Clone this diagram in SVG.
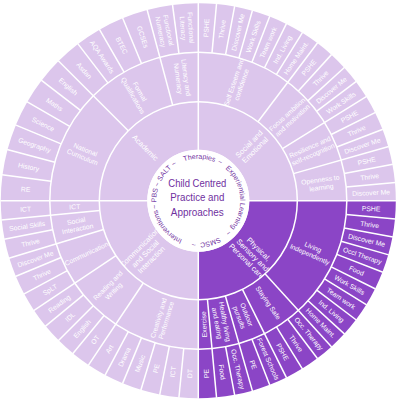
<svg xmlns="http://www.w3.org/2000/svg" width="397" height="400" viewBox="0 0 397 400">
<style>
.seg{fill:none}
.L{stroke:#DCC6EC}
.D{stroke:#8B45C6}
.s1{stroke-width:48}
.s2{stroke-width:49.5}
.s3{stroke-width:49}
.t{fill:#fff;font-family:"Liberation Sans",Arial,sans-serif;font-size:6.8px;text-anchor:middle}
.t1{font-size:7.5px}
.sep line,.sep circle{stroke:#fff;stroke-width:1.5;fill:none}
.rt{fill:#7030A0;font-family:"Liberation Sans",Arial,sans-serif;font-size:7px;text-anchor:middle}
.ct{fill:#7030A0;font-family:"Liberation Sans",Arial,sans-serif;font-size:11.5px;text-anchor:middle}
</style>
<defs>
<path id="ring" d="M-10.870,40.569 A42,42 0 1 1 10.870,-40.569 A42,42 0 1 1 -10.870,40.569"/>
</defs>
<g transform="translate(198.3,200.7)">
<!-- Ring 1 -->
<g id="n-academic"><circle class="seg L s1" r="75" pathLength="360" stroke-dasharray="90 360" transform="rotate(180)"/><text class="t t1" transform="rotate(315) translate(0,-75) rotate(90)" dy="2.6">Academic</text></g>
<g id="n-social-emotional"><circle class="seg L s1" r="75" pathLength="360" stroke-dasharray="90 360" transform="rotate(-90)"/><text class="t t1" transform="rotate(45) translate(0,-76) rotate(-90)"><tspan x="0" dy="-1.65">Social and</tspan><tspan x="0" dy="8.5">Emotional</tspan></text></g>
<g id="n-physical"><circle class="seg D s1" r="75" pathLength="360" stroke-dasharray="90 360" transform="rotate(0)"/><text class="t t1" transform="rotate(135) translate(0,-77) rotate(-90)"><tspan x="0" dy="-5.9">Physical,</tspan><tspan x="0" dy="8.5">Sensory and</tspan><tspan x="0" dy="8.5">Personal care</tspan></text></g>
<g id="n-communication-social"><circle class="seg L s1" r="75" pathLength="360" stroke-dasharray="90 360" transform="rotate(90)"/><text class="t t1" transform="rotate(225) translate(0,-75) rotate(90)"><tspan x="0" dy="-5.9">Communication</tspan><tspan x="0" dy="8.5">and Social</tspan><tspan x="0" dy="8.5">Interaction</tspan></text></g>

<!-- Ring 2 NW -->
<g id="n-national-curriculum"><circle class="seg L s2" r="123.75" pathLength="360" stroke-dasharray="45 360" transform="rotate(180)"/><text class="t" transform="rotate(292.5) translate(0,-123.75) rotate(90)"><tspan x="0" dy="-1.6">National</tspan><tspan x="0" dy="8">Curriculum</tspan></text></g>
<g id="n-formal-qualifications"><circle class="seg L s2" r="123.75" pathLength="360" stroke-dasharray="30 360" transform="rotate(225)"/><text class="t" transform="rotate(330) translate(0,-123.75) rotate(90)"><tspan x="0" dy="-1.6">Formal</tspan><tspan x="0" dy="8">Qualifications</tspan></text></g>
<g id="n-literacy-numeracy"><circle class="seg L s2" r="123.75" pathLength="360" stroke-dasharray="15 360" transform="rotate(255)"/><text class="t" transform="rotate(352.5) translate(0,-123.75) rotate(90)"><tspan x="0" dy="-1.6">Literacy and</tspan><tspan x="0" dy="8">Numeracy</tspan></text></g>
<!-- Ring 2 NE -->
<g id="n-self-esteem"><circle class="seg L s2" r="123.75" pathLength="360" stroke-dasharray="37.059 360" transform="rotate(-90)"/><text class="t" transform="rotate(18.529) translate(0,-123.75) rotate(-90)"><tspan x="0" dy="-1.6">Self Esteem and</tspan><tspan x="0" dy="8">confidence</tspan></text></g>
<g id="n-focus"><circle class="seg L s2" r="123.75" pathLength="360" stroke-dasharray="21.176 360" transform="rotate(-52.941)"/><text class="t" transform="rotate(47.647) translate(0,-123.75) rotate(-90)"><tspan x="0" dy="-1.6">Focus ambition</tspan><tspan x="0" dy="8">and motivation</tspan></text></g>
<g id="n-resilience"><circle class="seg L s2" r="123.75" pathLength="360" stroke-dasharray="15.882 360" transform="rotate(-31.765)"/><text class="t" transform="rotate(66.176) translate(0,-123.75) rotate(-90)"><tspan x="0" dy="-1.6">Resilience and</tspan><tspan x="0" dy="8">self-recognition</tspan></text></g>
<g id="n-openness"><circle class="seg L s2" r="123.75" pathLength="360" stroke-dasharray="15.882 360" transform="rotate(-15.882)"/><text class="t" transform="rotate(82.059) translate(0,-123.75) rotate(-90)"><tspan x="0" dy="-1.6">Openness to</tspan><tspan x="0" dy="8">learning</tspan></text></g>
<!-- Ring 2 SE -->
<g id="n-living-independently"><circle class="seg D s2" r="123.75" pathLength="360" stroke-dasharray="47.647 360" transform="rotate(0)"/><text class="t" transform="rotate(113.824) translate(0,-123.75) rotate(-90)"><tspan x="0" dy="-1.6">Living</tspan><tspan x="0" dy="8">Independently</tspan></text></g>
<g id="n-staying-safe"><circle class="seg D s2" r="123.75" pathLength="360" stroke-dasharray="15.882 360" transform="rotate(47.647)"/><text class="t" transform="rotate(145.588) translate(0,-123.75) rotate(-90)" dy="2.4">Staying Safe</text></g>
<g id="n-outdoor"><circle class="seg D s2" r="123.75" pathLength="360" stroke-dasharray="10.588 360" transform="rotate(63.529)"/><text class="t" transform="rotate(158.824) translate(0,-123.75) rotate(-90)"><tspan x="0" dy="-1.6">Outdoor</tspan><tspan x="0" dy="8">pursuits</tspan></text></g>
<g id="n-healthy"><circle class="seg D s2" r="123.75" pathLength="360" stroke-dasharray="10.588 360" transform="rotate(74.118)"/><text class="t" transform="rotate(169.412) translate(0,-123.75) rotate(-90)"><tspan x="0" dy="-1.6">Healthy living</tspan><tspan x="0" dy="8">and eating</tspan></text></g>
<g id="n-exercise"><circle class="seg D s2" r="123.75" pathLength="360" stroke-dasharray="5.294 360" transform="rotate(84.706)"/><text class="t" transform="rotate(177.353) translate(0,-123.75) rotate(90)" dy="2.4">Exercise</text></g>
<!-- Ring 2 SW -->
<g id="n-creativity"><circle class="seg L s2" r="123.75" pathLength="360" stroke-dasharray="33.75 360" transform="rotate(90)"/><text class="t" transform="rotate(196.875) translate(0,-123.75) rotate(90)"><tspan x="0" dy="-1.6">Creativity and</tspan><tspan x="0" dy="8">Performance</tspan></text></g>
<g id="n-reading-writing"><circle class="seg L s2" r="123.75" pathLength="360" stroke-dasharray="22.5 360" transform="rotate(123.75)"/><text class="t" transform="rotate(225) translate(0,-123.75) rotate(90)"><tspan x="0" dy="-1.6">Reading and</tspan><tspan x="0" dy="8">Writing</tspan></text></g>
<g id="n-communication"><circle class="seg L s2" r="123.75" pathLength="360" stroke-dasharray="16.875 360" transform="rotate(146.25)"/><text class="t" transform="rotate(244.688) translate(0,-123.75) rotate(90)" dy="2.4">Communication</text></g>
<g id="n-social-interaction"><circle class="seg L s2" r="123.75" pathLength="360" stroke-dasharray="11.25 360" transform="rotate(163.125)"/><text class="t" transform="rotate(258.75) translate(0,-123.75) rotate(90)"><tspan x="0" dy="-1.6">Social</tspan><tspan x="0" dy="8">Interaction</tspan></text></g>
<g id="n-ict-2"><circle class="seg L s2" r="123.75" pathLength="360" stroke-dasharray="5.625 360" transform="rotate(174.375)"/><text class="t" transform="rotate(267.188) translate(0,-123.75) rotate(90)" dy="2.4">ICT</text></g>

<!-- Ring 3 NW -->
<g id="n-re"><circle class="seg L s3" r="173" pathLength="360" stroke-dasharray="7.5 360" transform="rotate(180)"/><text class="t" transform="rotate(273.75) translate(0,-173) rotate(90)" dy="2.4">RE</text></g>
<g id="n-history"><circle class="seg L s3" r="173" pathLength="360" stroke-dasharray="7.5 360" transform="rotate(187.5)"/><text class="t" transform="rotate(281.25) translate(0,-173) rotate(90)" dy="2.4">History</text></g>
<g id="n-geography"><circle class="seg L s3" r="173" pathLength="360" stroke-dasharray="7.5 360" transform="rotate(195)"/><text class="t" transform="rotate(288.75) translate(0,-173) rotate(90)" dy="2.4">Geography</text></g>
<g id="n-science"><circle class="seg L s3" r="173" pathLength="360" stroke-dasharray="7.5 360" transform="rotate(202.5)"/><text class="t" transform="rotate(296.25) translate(0,-173) rotate(90)" dy="2.4">Science</text></g>
<g id="n-maths"><circle class="seg L s3" r="173" pathLength="360" stroke-dasharray="7.5 360" transform="rotate(210)"/><text class="t" transform="rotate(303.75) translate(0,-173) rotate(90)" dy="2.4">Maths</text></g>
<g id="n-english-a"><circle class="seg L s3" r="173" pathLength="360" stroke-dasharray="7.5 360" transform="rotate(217.5)"/><text class="t" transform="rotate(311.25) translate(0,-173) rotate(90)" dy="2.4">English</text></g>
<g id="n-asdan"><circle class="seg L s3" r="173" pathLength="360" stroke-dasharray="7.5 360" transform="rotate(225)"/><text class="t" transform="rotate(318.75) translate(0,-173) rotate(90)" dy="2.4">Asdan</text></g>
<g id="n-aqa"><circle class="seg L s3" r="173" pathLength="360" stroke-dasharray="7.5 360" transform="rotate(232.5)"/><text class="t" transform="rotate(326.25) translate(0,-173) rotate(90)" dy="2.4">AQA Awards</text></g>
<g id="n-btec"><circle class="seg L s3" r="173" pathLength="360" stroke-dasharray="7.5 360" transform="rotate(240)"/><text class="t" transform="rotate(333.75) translate(0,-173) rotate(90)" dy="2.4">BTEC</text></g>
<g id="n-gcses"><circle class="seg L s3" r="173" pathLength="360" stroke-dasharray="7.5 360" transform="rotate(247.5)"/><text class="t" transform="rotate(341.25) translate(0,-173) rotate(90)" dy="2.4">GCSEs</text></g>
<g id="n-func-numeracy"><circle class="seg L s3" r="173" pathLength="360" stroke-dasharray="7.5 360" transform="rotate(255)"/><text class="t" transform="rotate(348.75) translate(0,-173) rotate(90)"><tspan x="0" dy="-1.6">Functional</tspan><tspan x="0" dy="8">Numeracy</tspan></text></g>
<g id="n-func-literacy"><circle class="seg L s3" r="173" pathLength="360" stroke-dasharray="7.5 360" transform="rotate(262.5)"/><text class="t" transform="rotate(356.25) translate(0,-173) rotate(90)"><tspan x="0" dy="-1.6">Functional</tspan><tspan x="0" dy="8">Literacy</tspan></text></g>
<!-- Ring 3 NE -->
<g id="n-pshe-1"><circle class="seg L s3" r="173" pathLength="360" stroke-dasharray="5.294 360" transform="rotate(-90)"/><text class="t" transform="rotate(2.647) translate(0,-173) rotate(-90)" dy="2.4">PSHE</text></g>
<g id="n-thrive-1"><circle class="seg L s3" r="173" pathLength="360" stroke-dasharray="5.294 360" transform="rotate(-84.706)"/><text class="t" transform="rotate(7.941) translate(0,-173) rotate(-90)" dy="2.4">Thrive</text></g>
<g id="n-discover-1"><circle class="seg L s3" r="173" pathLength="360" stroke-dasharray="5.294 360" transform="rotate(-79.412)"/><text class="t" transform="rotate(13.235) translate(0,-173) rotate(-90)" dy="2.4">Discover Me</text></g>
<g id="n-work-1"><circle class="seg L s3" r="173" pathLength="360" stroke-dasharray="5.294 360" transform="rotate(-74.118)"/><text class="t" transform="rotate(18.529) translate(0,-173) rotate(-90)" dy="2.4">Work Skills</text></g>
<g id="n-team-1"><circle class="seg L s3" r="173" pathLength="360" stroke-dasharray="5.294 360" transform="rotate(-68.824)"/><text class="t" transform="rotate(23.824) translate(0,-173) rotate(-90)" dy="2.4">Team work</text></g>
<g id="n-indliving-1"><circle class="seg L s3" r="173" pathLength="360" stroke-dasharray="5.294 360" transform="rotate(-63.529)"/><text class="t" transform="rotate(29.118) translate(0,-173) rotate(-90)" dy="2.4">Ind. Living</text></g>
<g id="n-home-1"><circle class="seg L s3" r="173" pathLength="360" stroke-dasharray="5.294 360" transform="rotate(-58.235)"/><text class="t" transform="rotate(34.412) translate(0,-173) rotate(-90)" dy="2.4">Home Maint.</text></g>
<g id="n-pshe-2"><circle class="seg L s3" r="173" pathLength="360" stroke-dasharray="5.294 360" transform="rotate(-52.941)"/><text class="t" transform="rotate(39.706) translate(0,-173) rotate(-90)" dy="2.4">PSHE</text></g>
<g id="n-thrive-2"><circle class="seg L s3" r="173" pathLength="360" stroke-dasharray="5.294 360" transform="rotate(-47.647)"/><text class="t" transform="rotate(45) translate(0,-173) rotate(-90)" dy="2.4">Thrive</text></g>
<g id="n-discover-2"><circle class="seg L s3" r="173" pathLength="360" stroke-dasharray="5.294 360" transform="rotate(-42.353)"/><text class="t" transform="rotate(50.294) translate(0,-173) rotate(-90)" dy="2.4">Discover Me</text></g>
<g id="n-work-2"><circle class="seg L s3" r="173" pathLength="360" stroke-dasharray="5.294 360" transform="rotate(-37.059)"/><text class="t" transform="rotate(55.588) translate(0,-173) rotate(-90)" dy="2.4">Work Skills</text></g>
<g id="n-pshe-3"><circle class="seg L s3" r="173" pathLength="360" stroke-dasharray="5.294 360" transform="rotate(-31.765)"/><text class="t" transform="rotate(60.882) translate(0,-173) rotate(-90)" dy="2.4">PSHE</text></g>
<g id="n-thrive-3"><circle class="seg L s3" r="173" pathLength="360" stroke-dasharray="5.294 360" transform="rotate(-26.471)"/><text class="t" transform="rotate(66.176) translate(0,-173) rotate(-90)" dy="2.4">Thrive</text></g>
<g id="n-discover-3"><circle class="seg L s3" r="173" pathLength="360" stroke-dasharray="5.294 360" transform="rotate(-21.176)"/><text class="t" transform="rotate(71.471) translate(0,-173) rotate(-90)" dy="2.4">Discover Me</text></g>
<g id="n-pshe-4"><circle class="seg L s3" r="173" pathLength="360" stroke-dasharray="5.294 360" transform="rotate(-15.882)"/><text class="t" transform="rotate(76.765) translate(0,-173) rotate(-90)" dy="2.4">PSHE</text></g>
<g id="n-thrive-4"><circle class="seg L s3" r="173" pathLength="360" stroke-dasharray="5.294 360" transform="rotate(-10.588)"/><text class="t" transform="rotate(82.059) translate(0,-173) rotate(-90)" dy="2.4">Thrive</text></g>
<g id="n-discover-4"><circle class="seg L s3" r="173" pathLength="360" stroke-dasharray="5.294 360" transform="rotate(-5.294)"/><text class="t" transform="rotate(87.353) translate(0,-173) rotate(-90)" dy="2.4">Discover Me</text></g>
<!-- Ring 3 SE -->
<g id="n-pshe-5"><circle class="seg D s3" r="173" pathLength="360" stroke-dasharray="5.294 360" transform="rotate(0)"/><text class="t" transform="rotate(92.647) translate(0,-173) rotate(-90)" dy="2.4">PSHE</text></g>
<g id="n-thrive-5"><circle class="seg D s3" r="173" pathLength="360" stroke-dasharray="5.294 360" transform="rotate(5.294)"/><text class="t" transform="rotate(97.941) translate(0,-173) rotate(-90)" dy="2.4">Thrive</text></g>
<g id="n-discover-5"><circle class="seg D s3" r="173" pathLength="360" stroke-dasharray="5.294 360" transform="rotate(10.588)"/><text class="t" transform="rotate(103.235) translate(0,-173) rotate(-90)" dy="2.4">Discover Me</text></g>
<g id="n-occl-therapy"><circle class="seg D s3" r="173" pathLength="360" stroke-dasharray="5.294 360" transform="rotate(15.882)"/><text class="t" transform="rotate(108.529) translate(0,-173) rotate(-90)" dy="2.4">Occl Therapy</text></g>
<g id="n-food-1"><circle class="seg D s3" r="173" pathLength="360" stroke-dasharray="5.294 360" transform="rotate(21.176)"/><text class="t" transform="rotate(113.824) translate(0,-173) rotate(-90)" dy="2.4">Food</text></g>
<g id="n-work-3"><circle class="seg D s3" r="173" pathLength="360" stroke-dasharray="5.294 360" transform="rotate(26.471)"/><text class="t" transform="rotate(119.118) translate(0,-173) rotate(-90)" dy="2.4">Work Skills</text></g>
<g id="n-team-2"><circle class="seg D s3" r="173" pathLength="360" stroke-dasharray="5.294 360" transform="rotate(31.765)"/><text class="t" transform="rotate(124.412) translate(0,-173) rotate(-90)" dy="2.4">Team work</text></g>
<g id="n-indliving-2"><circle class="seg D s3" r="173" pathLength="360" stroke-dasharray="5.294 360" transform="rotate(37.059)"/><text class="t" transform="rotate(129.706) translate(0,-173) rotate(-90)" dy="2.4">Ind. Living</text></g>
<g id="n-home-2"><circle class="seg D s3" r="173" pathLength="360" stroke-dasharray="5.294 360" transform="rotate(42.353)"/><text class="t" transform="rotate(135) translate(0,-173) rotate(-90)" dy="2.4">Home Maint.</text></g>
<g id="n-occ-therapy-1"><circle class="seg D s3" r="173" pathLength="360" stroke-dasharray="5.294 360" transform="rotate(47.647)"/><text class="t" transform="rotate(140.294) translate(0,-173) rotate(-90)" dy="2.4">Occ. Therapy</text></g>
<g id="n-thrive-6"><circle class="seg D s3" r="173" pathLength="360" stroke-dasharray="5.294 360" transform="rotate(52.941)"/><text class="t" transform="rotate(145.588) translate(0,-173) rotate(-90)" dy="2.4">Thrive</text></g>
<g id="n-pshe-6"><circle class="seg D s3" r="173" pathLength="360" stroke-dasharray="5.294 360" transform="rotate(58.235)"/><text class="t" transform="rotate(150.882) translate(0,-173) rotate(-90)" dy="2.4">PSHE</text></g>
<g id="n-forest"><circle class="seg D s3" r="173" pathLength="360" stroke-dasharray="5.294 360" transform="rotate(63.529)"/><text class="t" transform="rotate(156.176) translate(0,-173) rotate(-90)" dy="2.4">Forest Schools</text></g>
<g id="n-pe-1"><circle class="seg D s3" r="173" pathLength="360" stroke-dasharray="5.294 360" transform="rotate(68.824)"/><text class="t" transform="rotate(161.471) translate(0,-173) rotate(-90)" dy="2.4">PE</text></g>
<g id="n-occ-therapy-2"><circle class="seg D s3" r="173" pathLength="360" stroke-dasharray="5.294 360" transform="rotate(74.118)"/><text class="t" transform="rotate(166.765) translate(0,-173) rotate(-90)" dy="2.4">Occ. Therapy</text></g>
<g id="n-food-2"><circle class="seg D s3" r="173" pathLength="360" stroke-dasharray="5.294 360" transform="rotate(79.412)"/><text class="t" transform="rotate(172.059) translate(0,-173) rotate(-90)" dy="2.4">Food</text></g>
<g id="n-pe-2"><circle class="seg D s3" r="173" pathLength="360" stroke-dasharray="5.294 360" transform="rotate(84.706)"/><text class="t" transform="rotate(177.353) translate(0,-173) rotate(90)" dy="2.4">PE</text></g>
<!-- Ring 3 SW -->
<g id="n-dt"><circle class="seg L s3" r="173" pathLength="360" stroke-dasharray="5.625 360" transform="rotate(90)"/><text class="t" transform="rotate(182.813) translate(0,-173) rotate(90)" dy="2.4">DT</text></g>
<g id="n-ict-3a"><circle class="seg L s3" r="173" pathLength="360" stroke-dasharray="5.625 360" transform="rotate(95.625)"/><text class="t" transform="rotate(188.438) translate(0,-173) rotate(90)" dy="2.4">ICT</text></g>
<g id="n-pe-3"><circle class="seg L s3" r="173" pathLength="360" stroke-dasharray="5.625 360" transform="rotate(101.25)"/><text class="t" transform="rotate(194.063) translate(0,-173) rotate(90)" dy="2.4">PE</text></g>
<g id="n-music"><circle class="seg L s3" r="173" pathLength="360" stroke-dasharray="5.625 360" transform="rotate(106.875)"/><text class="t" transform="rotate(199.688) translate(0,-173) rotate(90)" dy="2.4">Music</text></g>
<g id="n-drama"><circle class="seg L s3" r="173" pathLength="360" stroke-dasharray="5.625 360" transform="rotate(112.5)"/><text class="t" transform="rotate(205.313) translate(0,-173) rotate(90)" dy="2.4">Drama</text></g>
<g id="n-art"><circle class="seg L s3" r="173" pathLength="360" stroke-dasharray="5.625 360" transform="rotate(118.125)"/><text class="t" transform="rotate(210.938) translate(0,-173) rotate(90)" dy="2.4">Art</text></g>
<g id="n-ot"><circle class="seg L s3" r="173" pathLength="360" stroke-dasharray="5.625 360" transform="rotate(123.75)"/><text class="t" transform="rotate(216.563) translate(0,-173) rotate(90)" dy="2.4">OT</text></g>
<g id="n-english-b"><circle class="seg L s3" r="173" pathLength="360" stroke-dasharray="5.625 360" transform="rotate(129.375)"/><text class="t" transform="rotate(222.188) translate(0,-173) rotate(90)" dy="2.4">English</text></g>
<g id="n-idl"><circle class="seg L s3" r="173" pathLength="360" stroke-dasharray="5.625 360" transform="rotate(135)"/><text class="t" transform="rotate(227.813) translate(0,-173) rotate(90)" dy="2.4">IDL</text></g>
<g id="n-reading"><circle class="seg L s3" r="173" pathLength="360" stroke-dasharray="5.625 360" transform="rotate(140.625)"/><text class="t" transform="rotate(233.438) translate(0,-173) rotate(90)" dy="2.4">Reading</text></g>
<g id="n-splt"><circle class="seg L s3" r="173" pathLength="360" stroke-dasharray="5.625 360" transform="rotate(146.25)"/><text class="t" transform="rotate(239.063) translate(0,-173) rotate(90)" dy="2.4">SpLT</text></g>
<g id="n-thrive-7"><circle class="seg L s3" r="173" pathLength="360" stroke-dasharray="5.625 360" transform="rotate(151.875)"/><text class="t" transform="rotate(244.688) translate(0,-173) rotate(90)" dy="2.4">Thrive</text></g>
<g id="n-discover-6"><circle class="seg L s3" r="173" pathLength="360" stroke-dasharray="5.625 360" transform="rotate(157.5)"/><text class="t" transform="rotate(250.313) translate(0,-173) rotate(90)" dy="2.4">Discover Me</text></g>
<g id="n-thrive-8"><circle class="seg L s3" r="173" pathLength="360" stroke-dasharray="5.625 360" transform="rotate(163.125)"/><text class="t" transform="rotate(255.938) translate(0,-173) rotate(90)" dy="2.4">Thrive</text></g>
<g id="n-social-skills"><circle class="seg L s3" r="173" pathLength="360" stroke-dasharray="5.625 360" transform="rotate(168.75)"/><text class="t" transform="rotate(261.563) translate(0,-173) rotate(90)" dy="2.4">Social Skills</text></g>
<g id="n-ict-3b"><circle class="seg L s3" r="173" pathLength="360" stroke-dasharray="5.625 360" transform="rotate(174.375)"/><text class="t" transform="rotate(267.188) translate(0,-173) rotate(90)" dy="2.4">ICT</text></g>

<!-- separators -->
<g id="connectors" class="sep">
<circle r="99"/><circle r="148.5"/>
<line x1="0" y1="-198" x2="0" y2="198"/><line x1="-198" y1="0" x2="198" y2="0"/>
<g>
<line y1="-99" y2="-198" transform="rotate(315)"/><line y1="-99" y2="-198" transform="rotate(345)"/>
<line y1="-99" y2="-198" transform="rotate(37.059)"/><line y1="-99" y2="-198" transform="rotate(58.235)"/><line y1="-99" y2="-198" transform="rotate(74.118)"/>
<line y1="-99" y2="-198" transform="rotate(137.647)"/><line y1="-99" y2="-198" transform="rotate(153.529)"/><line y1="-99" y2="-198" transform="rotate(164.118)"/><line y1="-99" y2="-198" transform="rotate(174.706)"/>
<line y1="-99" y2="-198" transform="rotate(264.375)"/><line y1="-99" y2="-198" transform="rotate(253.125)"/><line y1="-99" y2="-198" transform="rotate(236.25)"/><line y1="-99" y2="-198" transform="rotate(213.75)"/>
</g>
<g>
<line y1="-148.5" y2="-198" transform="rotate(277.5)"/><line y1="-148.5" y2="-198" transform="rotate(285)"/><line y1="-148.5" y2="-198" transform="rotate(292.5)"/><line y1="-148.5" y2="-198" transform="rotate(300)"/><line y1="-148.5" y2="-198" transform="rotate(307.5)"/><line y1="-148.5" y2="-198" transform="rotate(322.5)"/><line y1="-148.5" y2="-198" transform="rotate(330)"/><line y1="-148.5" y2="-198" transform="rotate(337.5)"/><line y1="-148.5" y2="-198" transform="rotate(352.5)"/>
<line y1="-148.5" y2="-198" transform="rotate(5.294)"/><line y1="-148.5" y2="-198" transform="rotate(10.588)"/><line y1="-148.5" y2="-198" transform="rotate(15.882)"/><line y1="-148.5" y2="-198" transform="rotate(21.176)"/><line y1="-148.5" y2="-198" transform="rotate(26.471)"/><line y1="-148.5" y2="-198" transform="rotate(31.765)"/><line y1="-148.5" y2="-198" transform="rotate(42.353)"/><line y1="-148.5" y2="-198" transform="rotate(47.647)"/><line y1="-148.5" y2="-198" transform="rotate(52.941)"/><line y1="-148.5" y2="-198" transform="rotate(63.529)"/><line y1="-148.5" y2="-198" transform="rotate(68.824)"/><line y1="-148.5" y2="-198" transform="rotate(79.412)"/><line y1="-148.5" y2="-198" transform="rotate(84.706)"/>
<line y1="-148.5" y2="-198" transform="rotate(95.294)"/><line y1="-148.5" y2="-198" transform="rotate(100.588)"/><line y1="-148.5" y2="-198" transform="rotate(105.882)"/><line y1="-148.5" y2="-198" transform="rotate(111.176)"/><line y1="-148.5" y2="-198" transform="rotate(116.471)"/><line y1="-148.5" y2="-198" transform="rotate(121.765)"/><line y1="-148.5" y2="-198" transform="rotate(127.059)"/><line y1="-148.5" y2="-198" transform="rotate(132.353)"/><line y1="-148.5" y2="-198" transform="rotate(142.941)"/><line y1="-148.5" y2="-198" transform="rotate(148.235)"/><line y1="-148.5" y2="-198" transform="rotate(158.824)"/><line y1="-148.5" y2="-198" transform="rotate(169.412)"/>
<line y1="-148.5" y2="-198" transform="rotate(185.625)"/><line y1="-148.5" y2="-198" transform="rotate(191.25)"/><line y1="-148.5" y2="-198" transform="rotate(196.875)"/><line y1="-148.5" y2="-198" transform="rotate(202.5)"/><line y1="-148.5" y2="-198" transform="rotate(208.125)"/><line y1="-148.5" y2="-198" transform="rotate(219.375)"/><line y1="-148.5" y2="-198" transform="rotate(225)"/><line y1="-148.5" y2="-198" transform="rotate(230.625)"/><line y1="-148.5" y2="-198" transform="rotate(241.875)"/><line y1="-148.5" y2="-198" transform="rotate(247.5)"/><line y1="-148.5" y2="-198" transform="rotate(258.75)"/>
</g>
</g>

<!-- centre -->
<g id="n-centre">
<circle r="51" fill="#fff"/>
<text class="rt"><textPath href="#ring" startOffset="9.722%">Interventions</textPath></text>
<text class="rt"><textPath href="#ring" startOffset="18.611%">~</textPath></text>
<text class="rt"><textPath href="#ring" startOffset="22.778%">PBS</textPath></text>
<text class="rt"><textPath href="#ring" startOffset="26.806%">~</textPath></text>
<text class="rt"><textPath href="#ring" startOffset="31.667%">SALT</textPath></text>
<text class="rt"><textPath href="#ring" startOffset="36.528%">~</textPath></text>
<text class="rt"><textPath href="#ring" startOffset="46.25%">Therapies</textPath></text>
<text class="rt"><textPath href="#ring" startOffset="54.028%">~</textPath></text>
<text class="rt"><textPath href="#ring" startOffset="69.444%">Experiential Learning</textPath></text>
<text class="rt"><textPath href="#ring" startOffset="83.889%">~</textPath></text>
<text class="rt"><textPath href="#ring" startOffset="91.389%">SMSC</textPath></text>
<text class="rt"><textPath href="#ring" startOffset="97.5%">~</textPath></text>
<text class="ct" x="-1" y="-14" textLength="58" lengthAdjust="spacingAndGlyphs">Child Centred</text>
<text class="ct" x="-1" y="0.5" textLength="54" lengthAdjust="spacingAndGlyphs">Practice and</text>
<text class="ct" x="-1" y="15" textLength="53" lengthAdjust="spacingAndGlyphs">Approaches</text>
</g>
</g>
</svg>
